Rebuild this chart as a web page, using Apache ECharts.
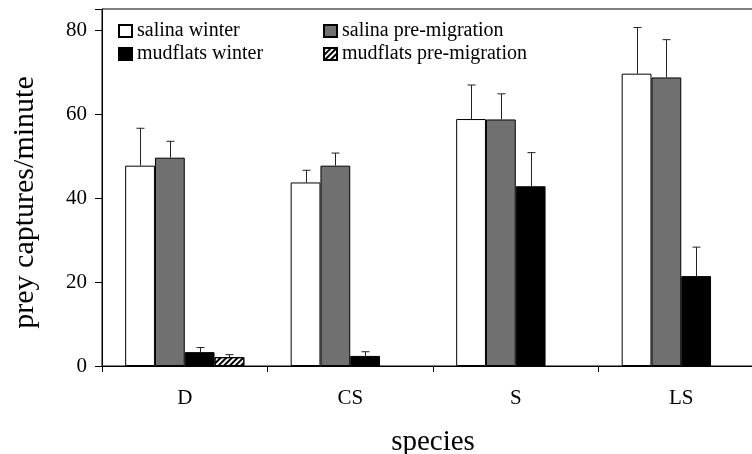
<!DOCTYPE html>
<html>
<head>
<meta charset="utf-8">
<script src="https://cdn.jsdelivr.net/npm/echarts@6/dist/echarts.min.js"></script>
<style>
html, body { margin: 0; padding: 0; background: #fff; overflow: hidden; }
/* the original plot box runs past the right edge of the picture */
#chart { width: 780px; height: 454px; }
</style>
</head>
<body>
<div id="chart"></div>
<script>
// values
var categories = ['D', 'CS', 'S', 'LS'];
var seriesNames = ['salina winter', 'salina pre-migration', 'mudflats winter', 'mudflats pre-migration'];
var salinaWinter = [47.7, 43.7, 58.8, 69.6];
var salinaWinterSE = [8.9, 2.9, 8.1, 11.0];
var salinaPre = [49.6, 47.7, 58.7, 68.7];
var salinaPreSE = [3.9, 3.0, 6.1, 9.0];
var mudWinter = [3.3, 2.4, 42.8, 21.4];
var mudWinterSE = [1.1, 1.0, 8.0, 6.9];
var mudPre = [2.1, null, null, null];
var mudPreSE = [0.6, null, null, null];
var yTicks = [0, 20, 40, 60, 80];

var fontFam = '"Liberation Serif", "Times New Roman", serif';
var catGap = 0.28; // barCategoryGap
var nBars = 4;

var chart = echarts.init(document.getElementById('chart'));

// 误差线 (only upward)
function errSeries(idx, vals, se) {
    var data = [];
    for (var i = 0; i < vals.length; i++) {
        if (vals[i] == null) continue;
        data.push([i, vals[i], vals[i] + se[i]]);
    }
    return {
        type: 'custom',
        name: seriesNames[idx],
        silent: true,
        z: 5,
        renderItem: function (params, api) {
            var base = api.coord([api.value(0), api.value(1)]);
            var top = api.coord([api.value(0), api.value(2)]);
            var band = api.size([1, 0])[0];
            var barW = band * (1 - catGap) / nBars;
            var x = Math.round(base[0] + (idx - 1.5) * barW) + 0.5;
            var style = { stroke: '#222', lineWidth: 1 };
            return {
                type: 'group',
                children: [
                    { type: 'line', shape: { x1: x, y1: base[1], x2: x, y2: top[1] }, style: style },
                    { type: 'line', shape: { x1: x - 4, y1: top[1], x2: x + 4, y2: top[1] }, style: style }
                ]
            };
        },
        data: data
    };
}

function barSeries(idx, vals, color, decal) {
    var s = {
        type: 'bar',
        name: seriesNames[idx],
        barGap: '0%',
        barCategoryGap: (catGap * 100) + '%',
        itemStyle: { color: color, borderColor: '#000', borderWidth: 1 },
        emphasis: { disabled: true },
        data: vals.map(function (v) { return v == null ? '-' : v; })
    };
    if (decal) s.itemStyle.decal = decal;
    return s;
}

var hatch = {
    symbol: 'rect',
    symbolSize: 1,
    color: '#000',
    dashArrayX: [1, 0],
    dashArrayY: [2, 2],
    rotation: -Math.PI / 4
};

var legendText = { color: '#000', fontFamily: fontFam, fontSize: 20 };

var option = {
    animation: false,
    backgroundColor: '#fff',
    legend: [
        {
            data: [seriesNames[0], seriesNames[2]],
            orient: 'vertical',
            left: 118, top: 21,
            padding: 0,
            itemWidth: 13, itemHeight: 12,
            itemGap: 3,
            icon: 'rect',
            selectedMode: false,
            textStyle: legendText
        },
        {
            data: [seriesNames[1], seriesNames[3]],
            orient: 'vertical',
            left: 323, top: 21,
            padding: 0,
            itemWidth: 13, itemHeight: 12,
            itemGap: 3,
            icon: 'rect',
            selectedMode: false,
            textStyle: legendText
        }
    ],
    grid: {
        left: 102, top: 9, width: 662, height: 357,
        show: true, borderColor: '#000', borderWidth: 1,
        containLabel: false,
        outerBoundsMode: 'none'
    },
    xAxis: {
        type: 'category',
        data: categories,
        boundaryGap: true,
        name: 'species',
        nameLocation: 'middle',
        nameGap: 62,
        nameTextStyle: { color: '#000', fontFamily: fontFam, fontSize: 29 },
        axisLine: { lineStyle: { color: '#000', width: 1 } },
        axisTick: { show: true, length: 6, lineStyle: { color: '#000' } },
        axisLabel: { color: '#000', fontFamily: fontFam, fontSize: 21, margin: 22 },
        splitLine: { show: false }
    },
    yAxis: {
        type: 'value',
        min: 0, max: 85, interval: 20,
        name: 'prey captures/minute',
        nameLocation: 'middle',
        nameGap: 62,
        nameRotate: 90,
        nameTextStyle: { color: '#000', fontFamily: fontFam, fontSize: 30, padding: [0, 30, 0, 0] },
        axisLine: { show: true, lineStyle: { color: '#000', width: 1 } },
        axisTick: { show: true, length: 7, lineStyle: { color: '#000' } },
        axisLabel: {
            color: '#000', fontFamily: fontFam, fontSize: 21, margin: 15,
            formatter: function (v) { return yTicks.indexOf(v) >= 0 ? String(v) : ''; }
        },
        splitLine: { show: false }
    },
    series: [
        barSeries(0, salinaWinter, '#ffffff'),
        barSeries(1, salinaPre, '#707070'),
        barSeries(2, mudWinter, '#000000'),
        barSeries(3, mudPre, '#ffffff', hatch),
        errSeries(0, salinaWinter, salinaWinterSE),
        errSeries(1, salinaPre, salinaPreSE),
        errSeries(2, mudWinter, mudWinterSE),
        errSeries(3, mudPre, mudPreSE)
    ]
};

chart.setOption(option);
window.addEventListener('resize', function () {
    chart.resize();
});
</script>
</body>
</html>
